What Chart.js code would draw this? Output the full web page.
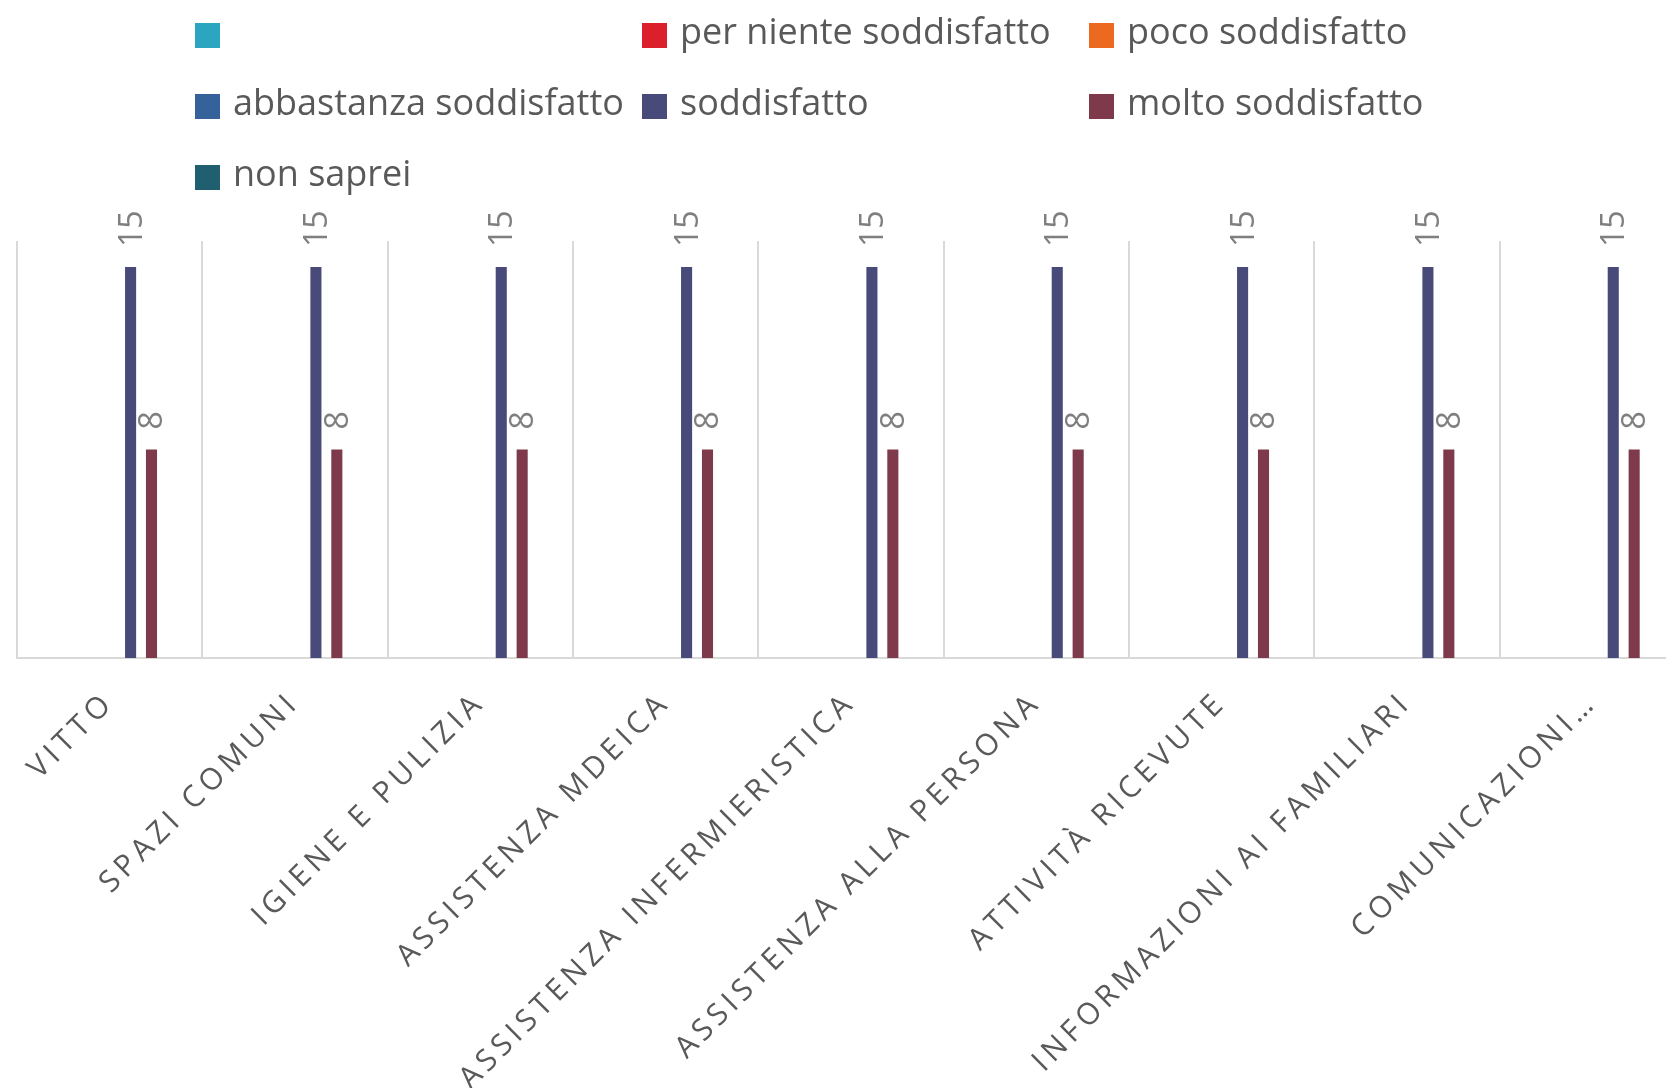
<!DOCTYPE html>
<html>
<head>
<meta charset="utf-8">
<script src="https://cdn.jsdelivr.net/npm/chart.js@4"></script>
<style>
    html, body { margin: 0; padding: 0; background: #fff; overflow: hidden; }
    #wrap { position: absolute; left: 0; top: 0; width: 1700px; height: 1088px; }
    #legend {
        position: absolute; left: 195px; top: 0;
        display: grid; grid-template-columns: 447px 447px 447px; grid-auto-rows: 71px;
        font-family: "Open Sans", sans-serif; font-size: 36px; color: #595959;
    }
    .item { display: flex; align-items: center; white-space: nowrap; }
    .box { width: 25px; height: 25px; margin-right: 13px; flex: none; }
    .txt { position: relative; top: -5px; }
</style>
</head>
<body>
<div id="wrap"><canvas id="chart"></canvas></div>
<div id="legend"></div>
<script>
const categories = ['VITTO', 'SPAZI COMUNI', 'IGIENE E PULIZIA', 'ASSISTENZA MDEICA',
    'ASSISTENZA INFERMIERISTICA', 'ASSISTENZA ALLA PERSONA', 'ATTIVITÀ RICEVUTE',
    'INFORMAZIONI AI FAMILIARI', 'COMUNICAZIONI…'];

const seriesNames = ['', 'per niente soddisfatto', 'poco soddisfatto', 'abbastanza soddisfatto',
    'soddisfatto', 'molto soddisfatto', 'non saprei'];
const seriesColors = ['#2ba5c0', '#db1f2b', '#ec6a1f', '#36629c', '#484b79', '#7e3a4b', '#1f5f6f'];

const blank = [0, 0, 0, 0, 0, 0, 0, 0, 0];
const perNiente = [0, 0, 0, 0, 0, 0, 0, 0, 0];
const poco = [0, 0, 0, 0, 0, 0, 0, 0, 0];
const abbastanza = [0, 0, 0, 0, 0, 0, 0, 0, 0];
const soddisfatto = [15, 15, 15, 15, 15, 15, 15, 15, 15];
const molto = [8, 8, 8, 8, 8, 8, 8, 8, 8];
const nonSaprei = [0, 0, 0, 0, 0, 0, 0, 0, 0];

const seriesData = [blank, perNiente, poco, abbastanza, soddisfatto, molto, nonSaprei];

// legend as a fixed 3-column grid, like the original
const legendEl = document.getElementById('legend');
seriesNames.forEach((name, i) => {
    const item = document.createElement('div');
    item.className = 'item';
    item.innerHTML = '<span class="box" style="background:' + seriesColors[i] + '"></span><span class="txt"></span>';
    item.lastChild.textContent = name;
    legendEl.appendChild(item);
});

// spaced-out letters for the category labels
const letterSpacing = {
    id: 'letterSpacing',
    beforeDraw(chart) { chart.ctx.letterSpacing = '5px'; },
    afterDraw(chart) { chart.ctx.letterSpacing = '0px'; }
};

// vertical value labels above the bars
const valueLabels = {
    id: 'valueLabels',
    afterDatasetsDraw(chart) {
        const ctx = chart.ctx;
        ctx.save();
        ctx.letterSpacing = '0px';
        ctx.font = '32px "Open Sans"';
        ctx.fillStyle = '#7f7f7f';
        ctx.textAlign = 'left';
        ctx.textBaseline = 'alphabetic';
        chart.data.datasets.forEach((ds, i) => {
            chart.getDatasetMeta(i).data.forEach((bar, j) => {
                const v = ds.data[j];
                if (!v) return;
                ctx.save();
                ctx.translate(bar.x + 11, bar.y - 20);
                ctx.rotate(-Math.PI / 2);
                ctx.fillText(String(v), 0, 0);
                ctx.restore();
            });
        });
        ctx.restore();
    }
};

new Chart(document.getElementById('chart'), {
    type: 'bar',
    data: {
        labels: categories,
        datasets: seriesNames.map((name, i) => ({
            label: name,
            data: seriesData[i],
            backgroundColor: seriesColors[i],
            borderWidth: 0,
            categoryPercentage: 0.79,
            barPercentage: 0.53
        }))
    },
    options: {
        responsive: true,
        maintainAspectRatio: false,
        animation: false,
        layout: { padding: { left: 17, top: 241, right: 15, bottom: 0 } },
        plugins: {
            legend: { display: false },
            tooltip: { enabled: false }
        },
        scales: {
            x: {
                grid: { color: '#d9d9d9', lineWidth: 2, drawTicks: false },
                border: { color: '#d9d9d9', width: 2 },
                ticks: {
                    color: '#595959',
                    font: { family: 'Open Sans', size: 30 },
                    minRotation: 45,
                    maxRotation: 45,
                    autoSkip: false,
                    padding: 27,
                    labelOffset: 0
                },
                afterFit: scale => { scale.height = 430; }
            },
            y: {
                display: false,
                min: 0,
                max: 16
            }
        }
    },
    plugins: [letterSpacing, valueLabels]
});
</script>
</body>
</html>
